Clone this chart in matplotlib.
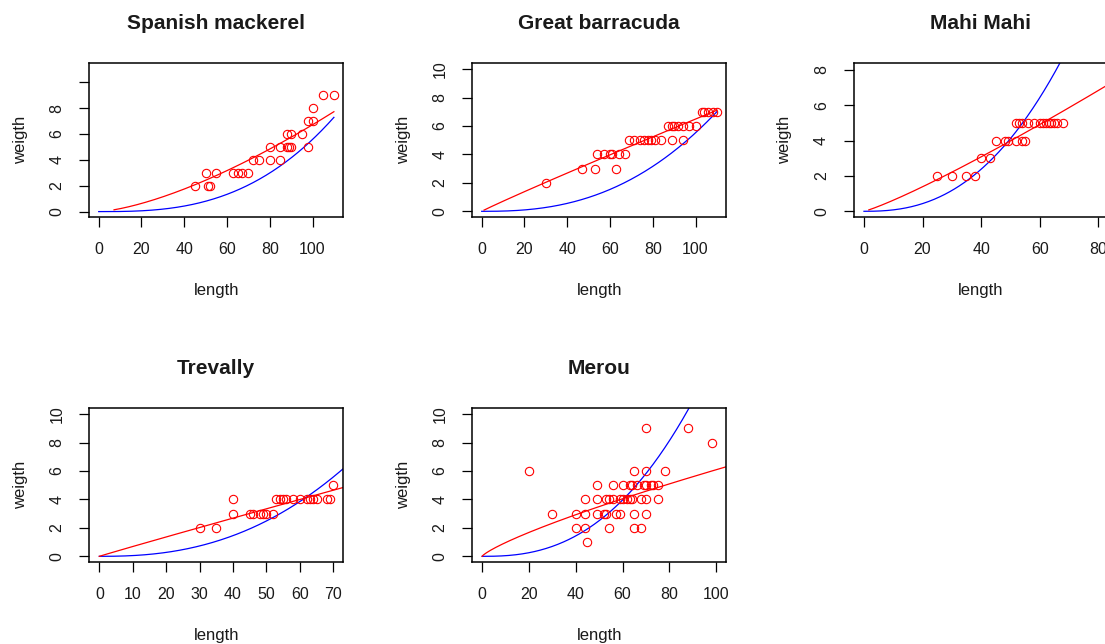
import numpy as np
import matplotlib
matplotlib.use("Agg")
import matplotlib.pyplot as plt

plt.rcParams['font.family'] = ['Liberation Sans', 'DejaVu Sans']

# measured length / weight per species
mackerel_len = [45, 50, 51, 52, 55, 63, 65, 67, 70, 72, 75, 80, 85, 80, 85, 88, 89, 90,
                88, 90, 95, 98, 98, 100, 100, 105, 110]
mackerel_wt = [2, 3, 2, 2, 3, 3, 3, 3, 3, 4, 4, 4, 4, 5, 5, 5, 5, 5,
               6, 6, 6, 5, 7, 7, 8, 9, 9]

barracuda_len = [30, 47, 53, 63, 54, 57, 60, 61, 64, 67, 69, 71, 74, 76, 78, 79, 81, 84,
                 89, 94, 87, 89, 90, 92, 94, 97, 100, 103, 104, 106, 108, 110]
barracuda_wt = [2, 3, 3, 3, 4, 4, 4, 4, 4, 4, 5, 5, 5, 5, 5, 5, 5, 5,
                5, 5, 6, 6, 6, 6, 6, 6, 6, 7, 7, 7, 7, 7]

mahi_len = [25, 30, 35, 38, 40, 43, 45, 48, 49, 52, 54, 55, 52, 53, 54, 56, 58, 60,
            61, 62, 63, 64, 65, 66, 68]
mahi_wt = [2, 2, 2, 2, 3, 3, 4, 4, 4, 4, 4, 4, 5, 5, 5, 5, 5, 5,
           5, 5, 5, 5, 5, 5, 5]

trevally_len = [30, 35, 40, 40, 45, 46, 48, 49, 50, 52, 53, 54, 55, 56, 58, 60, 62, 63,
                64, 65, 68, 69, 70]
trevally_wt = [2, 2, 4, 3, 3, 3, 3, 3, 3, 3, 4, 4, 4, 4, 4, 4, 4, 4,
               4, 4, 4, 4, 5]

merou_len = [30, 40, 44, 49, 52, 53, 57, 59, 65, 70,
             44, 49, 53, 54, 56, 59, 60, 62, 63, 64, 68, 70, 75,
             49, 56, 60, 63, 64, 66, 69, 70, 72, 73, 75,
             20, 65, 70, 78,
             40, 44, 54, 65, 68,
             45, 70, 88, 98]
merou_wt = [3, 3, 3, 3, 3, 3, 3, 3, 3, 3,
            4, 4, 4, 4, 4, 4, 4, 4, 4, 4, 4, 4, 4,
            5, 5, 5, 5, 5, 5, 5, 5, 5, 5, 5,
            6, 6, 6, 6,
            2, 2, 2, 2, 2,
            1, 9, 9, 8]

species = ["Spanish mackerel", "Great barracuda", "Mahi Mahi", "Trevally", "Merou"]
lengths = [mackerel_len, barracuda_len, mahi_len, trevally_len, merou_len]
weights = [mackerel_wt, barracuda_wt, mahi_wt, trevally_wt, merou_wt]

# weight = a * length^b : fitted (red) and reference (blue) curves
fit_a = [0.0077, 0.078, 0.0443, 0.0723, 0.153]
fit_b = [1.47, 0.96, 1.15, 0.98, 0.80]
fit_start = [7, 1, 1.4, 0, 0]
ref_a = [1.4e-5, 5.52e-5, 2.83e-4, 2.08e-4, 1.42e-4]
ref_b = [2.8, 2.5, 2.45, 2.4, 2.5]
curve_end = 110

xticks = [[0, 20, 40, 60, 80, 100], [0, 20, 40, 60, 80, 100], [0, 20, 40, 60, 80],
          list(range(0, 71, 10)), [0, 20, 40, 60, 80, 100]]
yticks = [[0, 2, 4, 6, 8, 10], list(range(0, 11, 2)), [0, 2, 4, 6, 8],
          list(range(0, 11, 2)), list(range(0, 11, 2))]
ytick_labels = [['0', '2', '4', '6', '8', ''], None, None, None, None]
xlims = [(-4.4, 114.4), (-4.4, 114.4), (-3.4, 83.3), (-3.0, 73.0), (-4.2, 104.3)]
ylims = [(-0.44, 11.5), (-0.42, 10.45), (-0.34, 8.41), (-0.42, 10.45), (-0.42, 10.45)]

W, H = 1105, 644
box_w, box_h = 254, 154.6
col_left = [89.3, 472.3, 854.0]
row_top = [62.7, 407.7]
cells = [(0, 0), (0, 1), (0, 2), (1, 0), (1, 1)]

fig = plt.figure(figsize=(W / 100, H / 100), dpi=100)

for i, name in enumerate(species):
    r, c = cells[i]
    left, top = col_left[c], row_top[r]
    ax = fig.add_axes([left / W, 1 - (top + box_h) / H, box_w / W, box_h / H])

    xs = np.linspace(0, curve_end, 400)
    xr = xs[xs >= fit_start[i]]
    ax.plot(xs, ref_a[i] * xs ** ref_b[i], color='#0000ff', lw=0.9)
    ax.plot(xr, fit_a[i] * xr ** fit_b[i], color='#ff0000', lw=0.9)
    ax.plot(lengths[i], weights[i], 'o', mfc='none', mec='#ff0000', ms=6, mew=0.8)

    ax.set_xlim(*xlims[i])
    ax.set_ylim(*ylims[i])
    ax.set_xticks(xticks[i])
    ax.set_yticks(yticks[i])
    labels = ytick_labels[i] if ytick_labels[i] else [str(v) for v in yticks[i]]
    ax.set_yticklabels(labels, rotation=90, va='center')
    ax.tick_params(direction='out', length=7, width=0.9, labelsize=11.5, pad=11,
                   labelcolor='#1a1a1a')
    for sp in ax.spines.values():
        sp.set_linewidth(1.1)

    cx = (left + box_w / 2) / W
    fig.text(cx, 1 - (top - 39) / H, name, ha='center', va='center',
             fontsize=15, fontweight='bold', color='#1a1a1a')
    fig.text(cx, 1 - (top + box_h + 73) / H, "length", ha='center', va='center',
             fontsize=12, color='#1a1a1a')
    fig.text((left - 69) / W, 1 - (top + box_h / 2) / H, "weigth", ha='center',
             va='center', rotation=90, fontsize=12, color='#1a1a1a')

fig.savefig("out.png", dpi=100)
